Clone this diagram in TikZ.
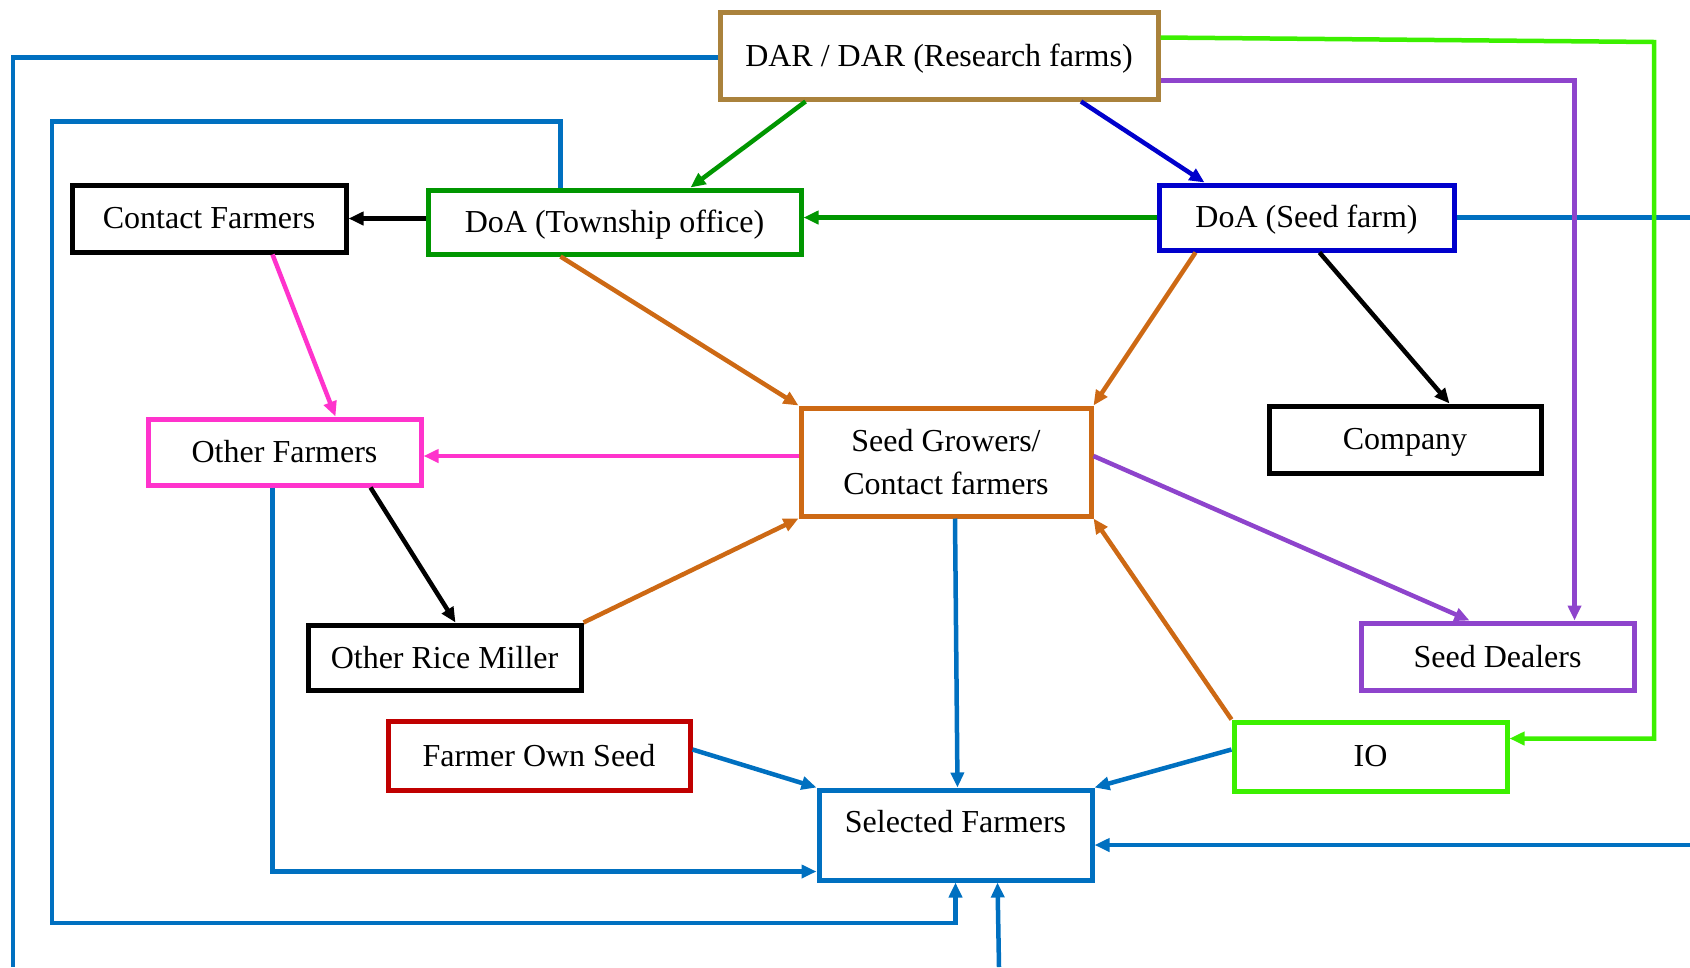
\documentclass[tikz,border=0pt]{standalone}
\usepackage{fontspec}
\setmainfont{Liberation Serif}
\usetikzlibrary{calc,arrows.meta}
\definecolor{darc}{RGB}{170,130,60}
\definecolor{twg}{RGB}{0,150,0}
\definecolor{sfb}{RGB}{0,0,204}
\definecolor{pnk}{RGB}{255,51,204}
\definecolor{org}{RGB}{205,105,20}
\definecolor{prp}{RGB}{142,68,204}
\definecolor{redc}{RGB}{192,0,0}
\definecolor{lim}{RGB}{60,240,0}
\definecolor{blu}{RGB}{0,112,192}
\tikzset{
  box/.style={draw, line width=5pt, rectangle, inner sep=0pt, align=center,
    font=\fontsize{32}{43}\selectfont},
  conn/.style={line width=4.5pt},
  arr/.style={conn, -{Triangle[length=15pt,width=13pt]}},
}
\begin{document}
\begin{tikzpicture}[x=1pt,y=-1pt]
\useasboundingbox (0,0) rectangle (1690,967);
% boxes
\node[box, draw=darc, minimum width=438, minimum height=87, text depth=0pt] (dar) at (939,55.5) {DAR / DAR (Research farms)};
\node[box, draw=black, minimum width=274, minimum height=67] (cf) at (209,218.5) {Contact Farmers};
\node[box, draw=twg, minimum width=373, minimum height=64, text depth=2pt] (town) at (614.5,222) {DoA (Township office)};
\node[box, draw=sfb, minimum width=295, minimum height=65, text depth=2pt] (sfarm) at (1306.5,217.5) {DoA (Seed farm)};
\node[box, draw=pnk, minimum width=273, minimum height=66] (of) at (284.5,452) {Other Farmers};
\node[box, draw=org, minimum width=290, minimum height=108] (sg) at (946,462) {Seed Growers/\\Contact farmers};
\node[box, draw=black, minimum width=272, minimum height=67, text depth=2pt] (comp) at (1405,439.5) {Company};
\node[box, draw=black, minimum width=273, minimum height=65] (orm) at (444.5,657.5) {Other Rice Miller};
\node[box, draw=prp, minimum width=273, minimum height=67] (deal) at (1497.5,656.5) {Seed Dealers};
\node[box, draw=redc, minimum width=302, minimum height=69] (fos) at (539,755.5) {Farmer Own Seed};
\node[box, draw=lim, minimum width=273, minimum height=69] (io) at (1370.5,756.5) {IO};
\node[box, draw=blu, minimum width=273, minimum height=90] (sel) at (955.5,835) {};
\node[font=\fontsize{32}{43}\selectfont, inner sep=0pt] (seltxt) at (955.5,822) {Selected Farmers};
% free ends
\coordinate (eL) at (13,967);
\coordinate (eB) at (999,967);
\coordinate (eR1) at (1690,217.5);
\coordinate (eR2) at (1690,845);
% connectors
\draw[conn, blu] ($(dar.west)+(0,2)$) -| (eL);
\draw[arr, blu] ($(town.north west)+(135,0)$) -- ++(0,-66) -| (52,923) -| (sel.south);
\draw[arr, blu] (eB) -- ($(sel.south)+(42,0)$);
\draw[conn, blu] (sfarm.east) -- (eR1);
\draw[arr, blu] (eR2) -- (sel.east |- eR2);
\draw[arr, lim] ($(dar.north east)+(0,28)$) -- (1654,42) |- ($(io.north east)+(0,19)$);
\draw[arr, prp] ($(dar.north east)+(0,71)$) -| ($(deal.north)+(77,0)$);
\draw[arr, twg] ($(dar.south west)+(88,0)$) -- ($(town.north)+(76,0)$);
\draw[arr, sfb] ($(dar.south)+(142,0)$) -- ($(sfarm.north west)+(48,0)$);
\draw[arr, twg] (sfarm.west) -- (sfarm.west -| town.east);
\draw[arr, black] (cf.east -| town.west) -- (cf.east);
\draw[arr, pnk] ($(cf.south west)+(203,0)$) -- ($(of.north west)+(190,0)$);
\draw[arr, org] ($(town.south west)+(135,0)$) -- (sg.north west);
\draw[arr, org] ($(sfarm.south west)+(39,0)$) -- (sg.north east);
\draw[arr, black] ($(sfarm.south west)+(163,0)$) -- ($(comp.north west)+(183,0)$);
\draw[arr, pnk] ($(sg.west)+(0,-6)$) -- ($(of.east)+(0,4)$);
\draw[arr, prp] ($(sg.east)+(0,-6)$) -- ($(deal.north west)+(111,0)$);
\draw[arr, black] ($(of.south west)+(225,0)$) -- ($(orm.north west)+(150,0)$);
\draw[arr, org] (orm.north east) -- (sg.south west);
\draw[arr, org] (io.north west) -- (sg.south east);
\draw[arr, blu] ($(sg.south)+(9,0)$) -- ($(sel.north)+(2,0)$);
\draw[arr, blu] ($(fos.east)+(0,-6)$) -- (sel.north west);
\draw[arr, blu] ($(io.west)+(0,-7)$) -- (sel.north east);
\draw[arr, blu] ($(of.south west)+(127,0)$) |- ($(sel.south west)+(0,-11)$);
\end{tikzpicture}
\end{document}
